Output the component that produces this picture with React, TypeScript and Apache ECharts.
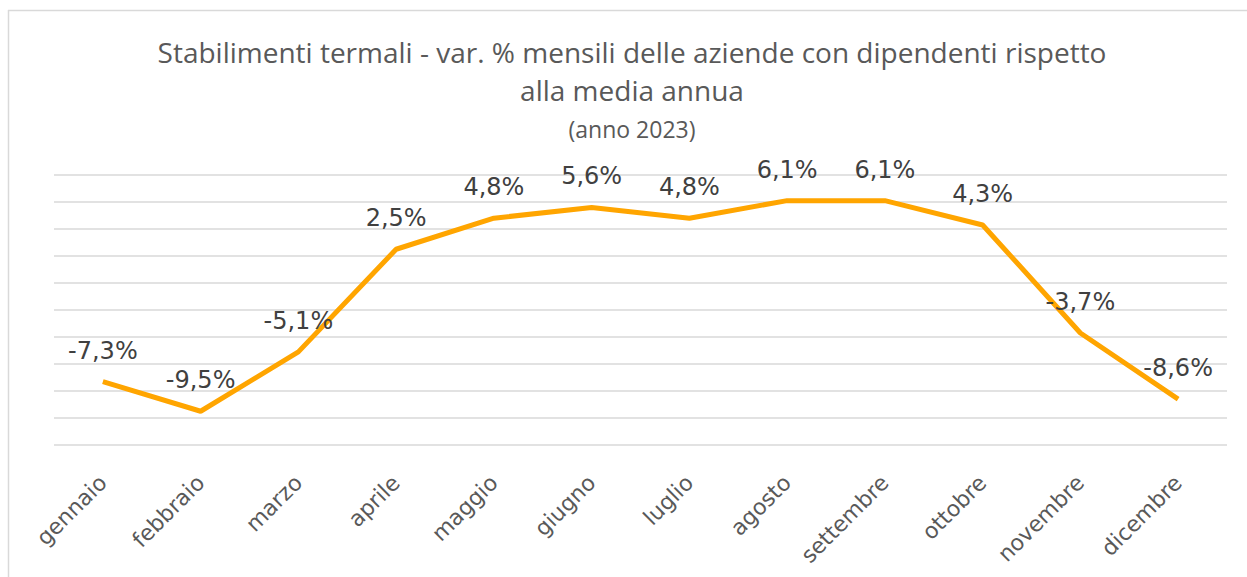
import React, { useEffect, useRef } from "react";
import * as echarts from "echarts";

const months = [
  "gennaio", "febbraio", "marzo", "aprile", "maggio", "giugno",
  "luglio", "agosto", "settembre", "ottobre", "novembre", "dicembre",
];
const variation = [-7.3, -9.5, -5.1, 2.5, 4.8, 5.6, 4.8, 6.1, 6.1, 4.3, -3.7, -8.6];
const titleLine1 = "Stabilimenti termali - var. % mensili delle aziende con dipendenti rispetto";
const titleLine2 = "alla media annua";
const subtitle = "(anno 2023)";

export default function App() {
  const ref = useRef<HTMLDivElement>(null);
  useEffect(() => {
    if (!ref.current) return;
    const chart = echarts.init(ref.current, undefined, { renderer: "svg" });
    chart.setOption({
      animation: false,
      backgroundColor: "#ffffff",
      graphic: [
        { type: "line", shape: { x1: 8.5, y1: 10, x2: 8.5, y2: 577 }, style: { stroke: "#d9d9d9", lineWidth: 1.5 } },
        { type: "line", shape: { x1: 8, y1: 10.5, x2: 1247, y2: 10.5 }, style: { stroke: "#d9d9d9", lineWidth: 1.5 } },
        { type: "text", x: 632, y: 52, style: { text: titleLine1, fontFamily: "Open Sans", fontSize: 28, fill: "#595959", align: "center", verticalAlign: "middle" } },
        { type: "text", x: 632, y: 90, style: { text: titleLine2, fontFamily: "Open Sans", fontSize: 28, fill: "#595959", align: "center", verticalAlign: "middle" } },
        { type: "text", x: 632, y: 129, style: { text: subtitle, fontFamily: "Open Sans", fontSize: 23, fill: "#595959", align: "center", verticalAlign: "middle" } },
      ],
      grid: { left: 54, right: 20, top: 175, bottom: 132, containLabel: false },
      xAxis: {
        type: "category",
        data: months,
        boundaryGap: true,
        axisLine: { show: false },
        axisTick: { show: false },
        axisLabel: {
          rotate: 45,
          margin: 34,
          interval: 0,
          color: "#595959",
          fontFamily: "DejaVu Sans",
          fontSize: 22,
        },
      },
      yAxis: {
        type: "value",
        min: -12,
        max: 8,
        interval: 2,
        axisLabel: { show: false },
        axisLine: { show: false },
        axisTick: { show: false },
        splitLine: { lineStyle: { color: "#d9d9d9", width: 1.5 } },
      },
      series: [
        {
          type: "line",
          data: variation,
          symbol: "circle",
          symbolSize: 0,
          showSymbol: true,
          lineStyle: { color: "#FFA500", width: 5 },
          itemStyle: { color: "#FFA500" },
          label: {
            show: true,
            position: "top",
            distance: 19,
            color: "#404040",
            fontFamily: "DejaVu Sans",
            fontSize: 24,
            formatter: (p: any) => p.value.toFixed(1).replace(".", ",") + "%",
          },
        },
      ],
    });
    return () => chart.dispose();
  }, []);
  return (
    <div
      ref={ref}
      style={{ position: "absolute", left: 0, top: 0, width: 1247, height: 577 }}
    />
  );
}
